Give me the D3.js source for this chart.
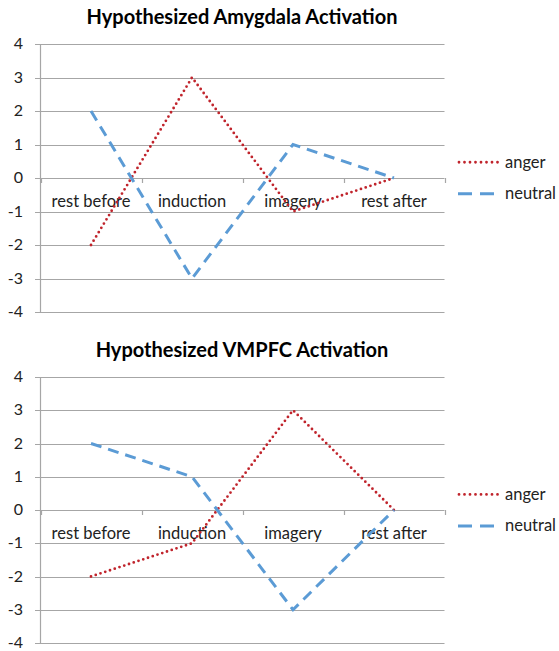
<!DOCTYPE html>
<html><head><meta charset="utf-8">
<script src="https://cdn.jsdelivr.net/npm/d3@7"></script>
<style>body{margin:0;background:#fff;} text{font-family:Lato, "Open Sans", sans-serif;}</style>
</head><body>
<svg id="c" width="559" height="651"></svg>
<script>
const categories = ["rest before", "induction", "imagery", "rest after"];
const yTicks = [-4, -3, -2, -1, 0, 1, 2, 3, 4];
const seriesNames = ["anger", "neutral"];
const amygdalaAnger = [-2, 3, -1, 0];
const amygdalaNeutral = [2, -3, 1, 0];
const vmpfcAnger = [-2, -1, 3, 0];
const vmpfcNeutral = [2, 1, -3, 0];
const titles = ["Hypothesized Amygdala Activation", "Hypothesized VMPFC Activation"];

const svg = d3.select("#c");
const colors = {anger: "#c0242c", neutral: "#5b9bd5"};
const dash = {anger: "0,5", neutral: "11,7"};
const widths = {anger: 2.8, neutral: 3};

function drawChart(title, data, top, bottom, titleY) {
  const g = svg.append("g");
  const x = d3.scaleBand().domain(categories).range([40.5, 444.5]);
  const y = d3.scaleLinear().domain([-4, 4]).range([bottom, top]);
  g.append("text").attr("x", 242).attr("y", titleY).attr("text-anchor", "middle")
    .attr("font-weight", "bold").attr("font-size", 20).attr("fill", "#000").text(title);
  g.selectAll(".grid").data(yTicks).enter().append("line")
    .attr("x1", 35).attr("x2", 444.5)
    .attr("y1", d => Math.round(y(d)) + 0.5).attr("y2", d => Math.round(y(d)) + 0.5)
    .attr("stroke", "#a6a6a6").attr("stroke-width", 1.2);
  g.append("line").attr("x1", 40.5).attr("x2", 40.5).attr("y1", y(4)).attr("y2", y(-4))
    .attr("stroke", "#a6a6a6").attr("stroke-width", 1.2);
  g.selectAll(".yl").data(yTicks).enter().append("text")
    .attr("x", 23).attr("y", d => y(d) + 5).attr("text-anchor", "end")
    .attr("font-size", 16).attr("fill", "#222").text(d => d);
  const tickXs = categories.map(c => x(c)).concat([x.range()[1]]);
  g.selectAll(".ct").data(tickXs).enter().append("line")
    .attr("x1", d => Math.round(d) + 0.5).attr("x2", d => Math.round(d) + 0.5)
    .attr("y1", y(0)).attr("y2", y(0) + 5)
    .attr("stroke", "#a6a6a6").attr("stroke-width", 1.2);
  g.selectAll(".cl").data(categories).enter().append("text")
    .attr("x", d => x(d) + x.bandwidth() / 2).attr("y", y(0) + 29)
    .attr("text-anchor", "middle").attr("font-size", 16.5).attr("fill", "#222").text(d => d);
  const line = d3.line().x((d, i) => x(categories[i]) + x.bandwidth() / 2).y(d => y(d));
  seriesNames.forEach(s => {
    g.append("path").datum(data[s]).attr("d", line).attr("fill", "none")
      .attr("stroke", colors[s]).attr("stroke-width", widths[s])
      .attr("stroke-dasharray", dash[s]).attr("stroke-linecap", s === "anger" ? "round" : "butt");
  });
  const ly0 = (y(0) + y(1)) / 2 + 1;
  seriesNames.forEach((s, i) => {
    const ly = ly0 + i * 31.5;
    g.append("line").attr("x1", s === "anger" ? 459 : 458).attr("x2", 498).attr("y1", ly).attr("y2", ly)
      .attr("stroke", colors[s]).attr("stroke-width", widths[s])
      .attr("stroke-dasharray", s === "anger" ? "0,5.5" : "14,8")
      .attr("stroke-linecap", s === "anger" ? "round" : "butt");
    g.append("text").attr("x", 505).attr("y", ly + 5.5).attr("font-size", 16.5)
      .attr("fill", "#222").text(s);
  });
}

drawChart(titles[0], {anger: amygdalaAnger, neutral: amygdalaNeutral}, 44, 312, 24);
drawChart(titles[1], {anger: vmpfcAnger, neutral: vmpfcNeutral}, 377, 643, 357);
</script>
</body></html>
